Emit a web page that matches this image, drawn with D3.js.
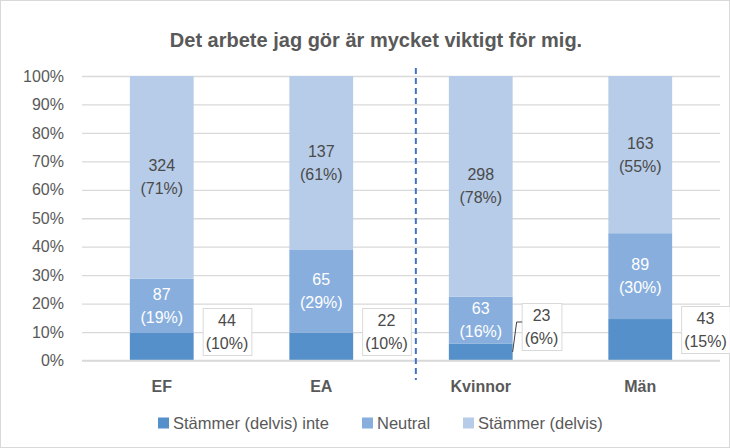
<!DOCTYPE html>
<html>
<head>
<meta charset="utf-8">
<script src="https://cdn.jsdelivr.net/npm/d3@7"></script>
<style>
  body { margin: 0; background: #fff; }
  svg { display: block; font-family: "Liberation Sans", Arial, sans-serif; }
</style>
</head>
<body>
<svg id="chart" width="730" height="448"></svg>
<script>
// DATA
var categories = ["EF", "EA", "Kvinnor", "Män"];
var seriesNames = ["Stämmer (delvis) inte", "Neutral", "Stämmer (delvis)"];
var disagree = [44, 22, 23, 43];
var neutral = [87, 65, 63, 89];
var agree = [324, 137, 298, 163];
var yTicks = [0, 0.1, 0.2, 0.3, 0.4, 0.5, 0.6, 0.7, 0.8, 0.9, 1];

(function () {
  var svg = d3.select("#chart"),
    width = 730,
    height = 448,
    margin = { top: 76, right: 10, bottom: 88, left: 82 },
    colors = ["#5590CA", "#87AEDD", "#B7CCE8"],
    font = 16;

  var x = d3.scaleBand()
    .domain(categories)
    .range([margin.left, width - margin.right])
    .paddingInner(0.6)
    .paddingOuter(0.3);

  var y = d3.scaleLinear()
    .domain([0, 1])
    .range([height - margin.bottom + 0.5, margin.top]);

  // table for the stack
  var rows = categories.map(function (c, i) {
    var total = disagree[i] + neutral[i] + agree[i];
    return { cat: c, counts: [disagree[i], neutral[i], agree[i]],
      s0: disagree[i] / total, s1: neutral[i] / total, s2: agree[i] / total };
  });
  var stack = d3.stack().keys(["s0", "s1", "s2"])(rows);

  // chart border
  svg.append("rect")
    .attr("x", 0.5).attr("y", 0.5)
    .attr("width", width - 1).attr("height", height - 1)
    .attr("fill", "#fff").attr("stroke", "#D9D9D9");

  // title
  svg.append("text")
    .attr("x", 376).attr("y", 40)
    .attr("text-anchor", "middle").attr("dominant-baseline", "central")
    .attr("font-size", 20).attr("font-weight", "bold")
    .attr("fill", "#595959")
    .text("Det arbete jag gör är mycket viktigt för mig.");

  // grid + y axis
  var yAxis = svg.append("g")
    .attr("transform", "translate(" + margin.left + ",0)")
    .call(d3.axisLeft(y).tickValues(yTicks).tickFormat(d3.format(".0%"))
      .tickSize(-(width - margin.right - margin.left)).tickPadding(18));
  yAxis.select(".domain").remove();
  yAxis.selectAll(".tick line").attr("stroke", "#D9D9D9").attr("stroke-width", 1.3);
  yAxis.selectAll(".tick text").attr("font-size", font).attr("fill", "#595959")
    .attr("font-family", "Liberation Sans, Arial, sans-serif");

  // bars
  var layers = svg.selectAll(".layer")
    .data(stack)
    .enter().append("g")
    .attr("class", "layer")
    .attr("fill", function (d, i) { return colors[i]; });

  layers.selectAll("rect")
    .data(function (d) { return d; })
    .enter().append("rect")
    .attr("x", function (d) { return x(d.data.cat); })
    .attr("y", function (d) { return y(d[1]); })
    .attr("width", x.bandwidth())
    .attr("height", function (d) { return y(d[0]) - y(d[1]); });

  // labels inside bars (neutral + agree)
  function twoLines(g, cx, cy, count, pct, fill) {
    var t = g.append("text")
      .attr("text-anchor", "middle")
      .attr("font-size", font)
      .attr("fill", fill);
    t.append("tspan").attr("x", cx).attr("y", cy - 11.5)
      .attr("dominant-baseline", "central").text(count);
    t.append("tspan").attr("x", cx).attr("y", cy + 11.5)
      .attr("dominant-baseline", "central").text("(" + d3.format(".0%")(pct) + ")");
    return t;
  }

  var labelG = svg.append("g");
  [1, 2].forEach(function (k) {
    stack[k].forEach(function (d, i) {
      var cx = x(d.data.cat) + x.bandwidth() / 2,
        cy = (y(d[0]) + y(d[1])) / 2;
      twoLines(labelG, cx, cy, d.data.counts[k], d[1] - d[0], k === 1 ? "#fff" : "#4A4A4A");
    });
  });

  // callouts for the bottom segment
  var calloutY = [332, 332, 327, 330];
  stack[0].forEach(function (d, i) {
    var left = x(d.data.cat) + x.bandwidth() + 9,
      cy = calloutY[i],
      g = svg.append("g");
    var box = g.append("rect").attr("fill", "#fff").attr("stroke", "#D9D9D9");
    var t = twoLines(g, 0, cy, d.data.counts[0], d[1] - d[0], "#4A4A4A");
    var bb = t.node().getBBox(),
      w = bb.width + 6;
    t.selectAll("tspan").attr("x", left + w / 2);
    box.attr("x", left + 0.5).attr("y", cy - 23.5)
      .attr("width", w).attr("height", 47);
    var segH = y(d[0]) - y(d[1]);
    if (segH < 20) {
      var bx = x(d.data.cat) + x.bandwidth(),
        by = (y(d[0]) + y(d[1])) / 2;
      g.append("path")
        .attr("d", "M" + bx + "," + by + "L" + (bx + 4) + "," + (cy - 5) + "L" + (left + 0.5) + "," + (cy - 5))
        .attr("fill", "none").attr("stroke", "#404040").attr("stroke-width", 1);
    }
  });

  // x axis
  var xAxis = svg.append("g")
    .attr("transform", "translate(0," + y(0) + ")")
    .call(d3.axisBottom(x).tickSize(0).tickPadding(20));
  xAxis.select(".domain").attr("stroke", "#D9D9D9").attr("stroke-width", 1.3)
    .attr("d", "M" + margin.left + ",0H" + (width - margin.right));
  xAxis.selectAll(".tick text").attr("font-size", font).attr("font-weight", "bold")
    .attr("fill", "#595959").attr("font-family", "Liberation Sans, Arial, sans-serif");

  // dashed divider between groups
  var divX = x("Kvinnor") - 33;
  svg.append("line")
    .attr("x1", divX).attr("x2", divX)
    .attr("y1", 68).attr("y2", 380)
    .attr("stroke", "#4472C4").attr("stroke-width", 2)
    .attr("stroke-dasharray", "6,4");

  // legend
  var legendX = [158, 362, 463];
  var legend = svg.selectAll(".legend")
    .data(seriesNames)
    .enter().append("g")
    .attr("class", "legend")
    .attr("transform", function (d, i) { return "translate(" + legendX[i] + ",423)"; });
  legend.append("rect")
    .attr("x", 0).attr("y", -5.5).attr("width", 11).attr("height", 11)
    .attr("fill", function (d, i) { return colors[i]; });
  legend.append("text")
    .attr("x", 15).attr("y", 0)
    .attr("dominant-baseline", "central")
    .attr("font-size", 16.5).attr("fill", "#595959")
    .text(function (d) { return d; });
})();
</script>
</body>
</html>
